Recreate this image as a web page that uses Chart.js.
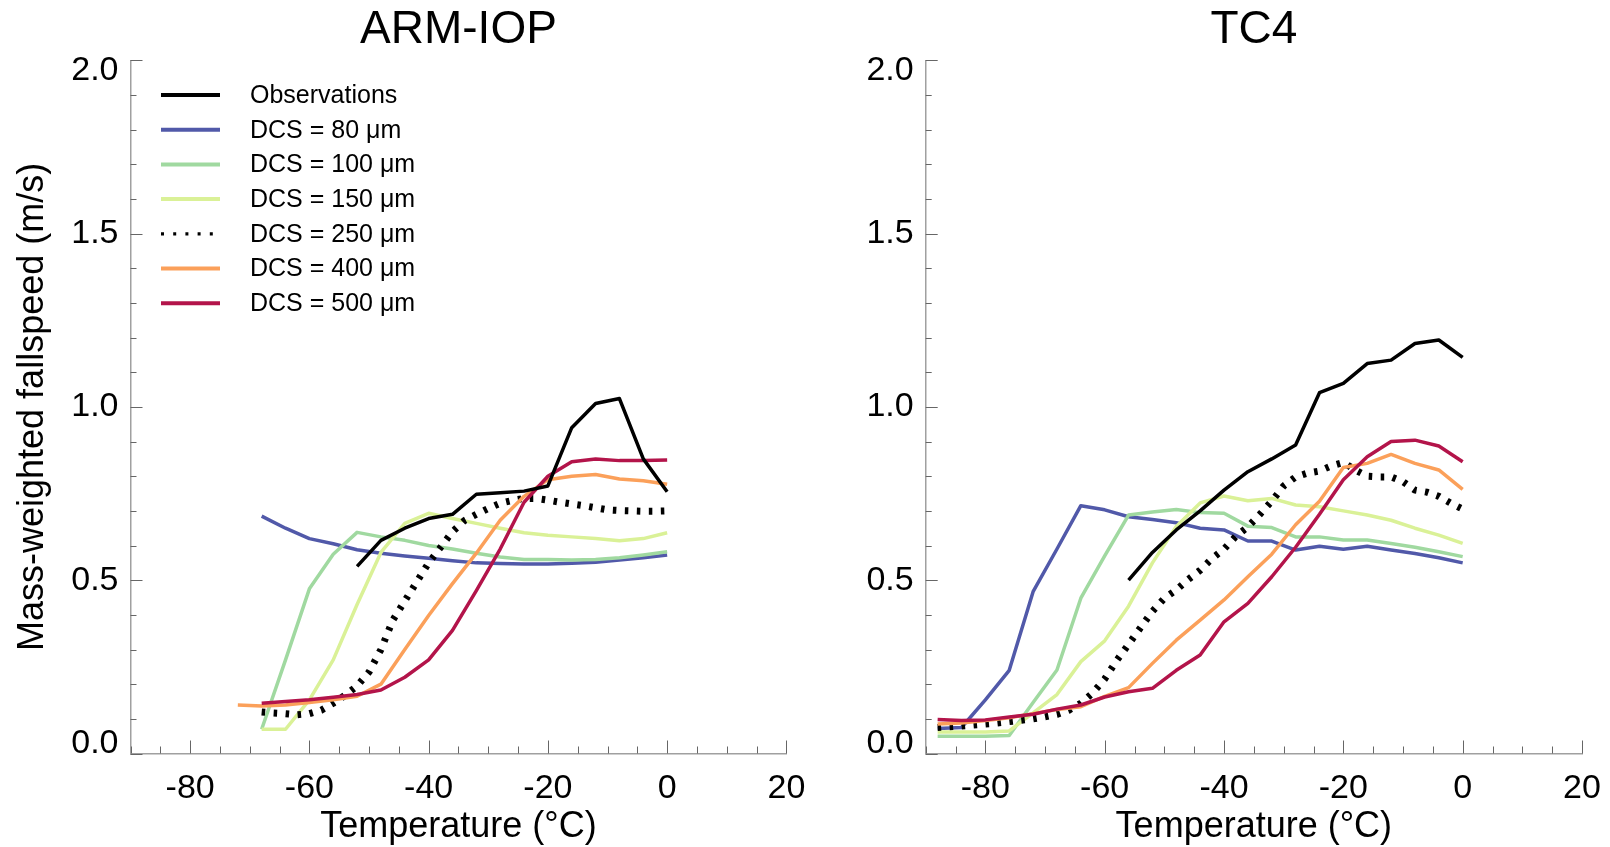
<!DOCTYPE html>
<html>
<head>
<meta charset="utf-8">
<script src="https://cdn.jsdelivr.net/npm/chart.js"></script>
<style>
html, body { margin: 0; padding: 0; background: #ffffff; }
#wrap { position: relative; width: 1610px; height: 847px; overflow: hidden; }
.panel { position: absolute; top: 0; width: 805px; height: 847px; }
#p1 { left: 0; }
#p2 { left: 805px; }
</style>
</head>
<body>
<div id="wrap">
  <div class="panel" id="p1"><canvas id="c1"></canvas></div>
  <div class="panel" id="p2"><canvas id="c2"></canvas></div>
</div>
<script>
// ---------------- DATA ----------------
const panelTitles = ['ARM-IOP', 'TC4'];
const seriesLabels = ['Observations', 'DCS = 80 \u03BCm', 'DCS = 100 \u03BCm', 'DCS = 150 \u03BCm',
                      'DCS = 250 \u03BCm', 'DCS = 400 \u03BCm', 'DCS = 500 \u03BCm'];

const xTickValues = [-90, -85, -80, -75, -70, -65, -60, -55, -50, -45, -40, -35, -30, -25, -20, -15, -10, -5, 0, 5, 10, 15, 20];
const xTickLabels = ['-80', '-60', '-40', '-20', '0', '20'];
const yTickValues = [0.0, 0.1, 0.2, 0.3, 0.4, 0.5, 0.6, 0.7, 0.8, 0.9, 1.0, 1.1, 1.2, 1.3, 1.4, 1.5, 1.6, 1.7, 1.8, 1.9, 2.0];
const yTickLabels = ['0.0', '0.5', '1.0', '1.5', '2.0'];

// ARM-IOP (temperatures in deg C)
const tArm = [-72, -68, -64, -60, -56, -52, -48, -44, -40, -36, -32, -28, -24, -20, -16, -12, -8, -4, 0];
const tArm2 = [-68, -66, -64, -62, -60, -58, -56, -54, -52, -50, -48, -46, -44, -42, -40, -38, -36, -34,
               -32, -30, -28, -26, -24, -22, -20, -18, -16, -14, -12, -10, -8, -6, -4, -2, 0];
const armObs  = [null, null, null, null, null, 0.54, 0.615, 0.65, 0.678, 0.69, 0.748, 0.752, 0.757, 0.772, 0.94, 1.01, 1.024, 0.85, 0.755];
const armD80  = [null, 0.685, 0.65, 0.62, 0.605, 0.588, 0.578, 0.57, 0.563, 0.556, 0.55, 0.548, 0.547, 0.547, 0.549, 0.552, 0.558, 0.565, 0.573];
const armD100 = [null, 0.07, 0.27, 0.475, 0.575, 0.638, 0.625, 0.615, 0.60, 0.59, 0.578, 0.567, 0.56, 0.56, 0.558, 0.56, 0.565, 0.573, 0.582];
const armD150 = [null, 0.07, 0.07, 0.155, 0.27, 0.43, 0.58, 0.664, 0.693, 0.678, 0.664, 0.65, 0.637, 0.63, 0.625, 0.62, 0.614, 0.62, 0.637];
const armD250 = [0.12, 0.117, 0.115, 0.112, 0.115, 0.125, 0.145, 0.168, 0.195, 0.235, 0.30, 0.385, 0.44, 0.495, 0.55,
                 0.595, 0.64, 0.672, 0.69, 0.707, 0.722, 0.73, 0.736, 0.736, 0.731, 0.725, 0.72, 0.715, 0.709, 0.703,
                 0.701, 0.70, 0.699, 0.699, 0.70];
const armD400 = [0.14, 0.137, 0.14, 0.147, 0.155, 0.165, 0.2, 0.3, 0.398, 0.49, 0.578, 0.673, 0.742, 0.79, 0.80, 0.805, 0.792, 0.787, 0.777];
const armD500 = [null, 0.145, 0.15, 0.155, 0.162, 0.17, 0.183, 0.22, 0.27, 0.355, 0.47, 0.59, 0.725, 0.80, 0.842, 0.85, 0.845, 0.845, 0.847];

// TC4
const tTc = [-88, -84, -80, -76, -72, -68, -64, -60, -56, -52, -48, -44, -40, -36, -32, -28, -24, -20, -16, -12, -8, -4, 0];
const tTc2 = [-88, -86, -84, -82, -80, -78, -76, -74, -72, -70, -68, -66, -64, -62, -60, -58, -56, -54, -52, -50,
              -48, -46, -44, -42, -40, -38, -36, -34, -32, -30, -28, -26, -24, -22, -20, -18, -16, -14, -12, -10,
              -8, -6, -4, -2, 0];
const tcObs  = [null, null, null, null, null, null, null, null, 0.50, 0.58, 0.645, 0.70, 0.76, 0.813, 0.85, 0.89, 1.041, 1.068, 1.125, 1.135, 1.183, 1.193, 1.143];
const tcD80  = [0.072, 0.075, 0.155, 0.24, 0.467, 0.59, 0.715, 0.703, 0.683, 0.675, 0.666, 0.65, 0.645, 0.613, 0.613, 0.587, 0.598, 0.589, 0.598, 0.587, 0.577, 0.565, 0.55];
const tcD100 = [0.05, 0.05, 0.05, 0.052, 0.147, 0.241, 0.448, 0.57, 0.688, 0.697, 0.704, 0.695, 0.693, 0.656, 0.652, 0.625, 0.625, 0.616, 0.616, 0.606, 0.595, 0.582, 0.568];
const tcD150 = [0.062, 0.062, 0.062, 0.065, 0.117, 0.17, 0.265, 0.325, 0.425, 0.55, 0.655, 0.723, 0.743, 0.729, 0.736, 0.717, 0.712, 0.70, 0.688, 0.673, 0.65, 0.63, 0.606];
const tcD250 = [0.075, 0.077, 0.079, 0.082, 0.085, 0.088, 0.092, 0.096, 0.10, 0.106, 0.113, 0.125, 0.145, 0.175, 0.215,
                0.268, 0.315, 0.363, 0.41, 0.448, 0.472, 0.502, 0.529, 0.563, 0.59, 0.627, 0.654, 0.69, 0.728, 0.772,
                0.798, 0.809, 0.815, 0.83, 0.84, 0.818, 0.80, 0.798, 0.798, 0.784, 0.76, 0.754, 0.742, 0.722, 0.705];
const tcD400 = [0.085, 0.088, 0.095, 0.103, 0.115, 0.127, 0.135, 0.165, 0.19, 0.26, 0.327, 0.385, 0.443, 0.51, 0.575, 0.66, 0.728, 0.825, 0.837, 0.863, 0.837, 0.818, 0.762];
const tcD500 = [0.098, 0.095, 0.097, 0.105, 0.113, 0.128, 0.14, 0.163, 0.178, 0.188, 0.24, 0.284, 0.38, 0.433, 0.51, 0.595, 0.69, 0.79, 0.856, 0.90, 0.904, 0.887, 0.842];

// ---------------- STYLE ----------------
const FONT = "'Liberation Sans', Arial, Helvetica, sans-serif";
const seriesColors = ['#000000', '#5159a9', '#a0d9a0', '#daf197', '#000000', '#fba05a', '#b3144a'];
const drawOrder = [0, 6, 5, 4, 3, 2, 1];
const dottedIndex = 4;

function pts(ts, vs) {
  const out = [];
  ts.forEach((t, i) => { if (vs[i] !== null && vs[i] !== undefined) out.push({ x: t, y: vs[i] }); });
  return out;
}

function makeDatasets(series) {
  return series.map((s, i) => ({
    label: seriesLabels[i],
    data: pts(s[0], s[1]),
    borderColor: seriesColors[i],
    backgroundColor: seriesColors[i],
    borderWidth: i === dottedIndex ? 7 : 3.5,
    borderDash: i === dottedIndex ? [3.5, 8.5] : [],
    borderCapStyle: 'butt',
    borderJoinStyle: 'round',
    pointRadius: 0,
    pointHoverRadius: 0,
    fill: false,
    tension: 0,
    order: drawOrder[i]
  }));
}

const tickMarks = {
  id: 'tickMarks',
  afterDatasetsDraw(chart) {
    const ctx = chart.ctx;
    const xs = chart.scales.x, ys = chart.scales.y;
    const area = chart.chartArea;
    ctx.save();
    ctx.strokeStyle = '#666666';
    ctx.lineWidth = 1;
    ctx.setLineDash([]);
    xs.ticks.forEach(t => {
      const px = Math.round(xs.getPixelForValue(t.value)) + 0.5;
      const major = xTickLabels.includes(String(Math.round(t.value)));
      const len = major ? 13 : 7;
      ctx.beginPath(); ctx.moveTo(px, area.bottom); ctx.lineTo(px, area.bottom - len); ctx.stroke();
    });
    ys.ticks.forEach(t => {
      const py = Math.round(ys.getPixelForValue(t.value)) + 0.5;
      const major = yTickLabels.includes(t.value.toFixed(1));
      const len = major ? 12 : 6;
      ctx.beginPath(); ctx.moveTo(area.left, py); ctx.lineTo(area.left + len, py); ctx.stroke();
    });
    ctx.restore();
  }
};

const insideLegend = {
  id: 'insideLegend',
  afterDatasetsDraw(chart, args, opts) {
    if (!opts || !opts.enabled) return;
    const ctx = chart.ctx;
    const x0 = 161, x1 = 220, textX = 250, top = 95, step = 34.7;
    ctx.save();
    chart.data.datasets.forEach((ds, i) => {
      const y = top + i * step;
      const dotted = ds.borderDash && ds.borderDash.length > 0;
      ctx.beginPath();
      ctx.strokeStyle = ds.borderColor;
      ctx.lineWidth = dotted ? 3.2 : 4;
      ctx.lineCap = 'butt';
      ctx.setLineDash(dotted ? [3, 9.2] : []);
      ctx.moveTo(x0, y); ctx.lineTo(x1, y); ctx.stroke();
      ctx.setLineDash([]);
      ctx.fillStyle = '#000000';
      ctx.font = '25px ' + FONT;
      ctx.textBaseline = 'middle';
      ctx.textAlign = 'left';
      ctx.fillText(ds.label, textX, y + 1);
    });
    ctx.restore();
  }
};

function makeOptions(title, yWidth, padRight, withLegend, showYTitle) {
  return {
    responsive: true,
    maintainAspectRatio: false,
    animation: false,
    devicePixelRatio: 1,
    events: [],
    layout: { padding: { left: 0, right: padRight, top: 0, bottom: 0 } },
    plugins: {
      legend: { display: false },
      tooltip: { enabled: false },
      title: {
        display: true, text: title, fullSize: false, color: '#000000',
        font: { family: FONT, size: 46, weight: 'normal', lineHeight: 1.2 },
        padding: { top: 3, bottom: 2.1 }
      },
      insideLegend: { enabled: withLegend }
    },
    scales: {
      x: {
        type: 'linear', position: 'bottom', min: -90, max: 20,
        afterBuildTicks: s => { s.ticks = xTickValues.map(v => ({ value: v })); },
        ticks: {
          autoSkip: false, maxRotation: 0, minRotation: 0, padding: 15, color: '#000000',
          font: { family: FONT, size: 34, lineHeight: 1.2 },
          callback: v => { const s = String(Math.round(v)); return xTickLabels.includes(s) ? s : ''; }
        },
        grid: { display: false, drawTicks: false },
        border: { display: true, color: '#a0a0a0', width: 1.5 },
        title: {
          display: true, text: 'Temperature (\u00B0C)', color: '#000000',
          font: { family: FONT, size: 36, lineHeight: 1.2 },
          padding: { top: 0, bottom: -2 }
        },
        afterFit: s => { s.height = 93.5; s.paddingLeft = 0; s.paddingRight = 0; }
      },
      y: {
        type: 'linear', position: 'left', min: 0, max: 2,
        afterBuildTicks: s => { s.ticks = yTickValues.map(v => ({ value: v })); },
        ticks: {
          autoSkip: false, padding: 12, color: '#000000',
          font: { family: FONT, size: 34, lineHeight: '20px' },
          callback: v => {
            const s = Number(v).toFixed(1);
            if (!yTickLabels.includes(s)) return '';
            if (s === yTickLabels[yTickLabels.length - 1]) return ['', s];
            if (s === yTickLabels[0]) return [s, ''];
            return s;
          }
        },
        grid: { display: false, drawTicks: false },
        border: { display: true, color: '#a0a0a0', width: 1.5 },
        title: {
          display: showYTitle, text: 'Mass-weighted fallspeed (m/s)', color: '#000000',
          font: { family: FONT, size: 36, lineHeight: 1.2 },
          padding: { top: 11, bottom: 0 }
        },
        afterFit: s => { s.width = yWidth; s.paddingTop = 0; s.paddingBottom = 0; }
      }
    }
  };
}

new Chart(document.getElementById('c1'), {
  type: 'line',
  data: { datasets: makeDatasets([[tArm, armObs], [tArm, armD80], [tArm, armD100], [tArm, armD150],
                                  [tArm2, armD250], [tArm, armD400], [tArm, armD500]]) },
  options: makeOptions(panelTitles[0], 130.5, 18.6, true, true),
  plugins: [tickMarks, insideLegend]
});

new Chart(document.getElementById('c2'), {
  type: 'line',
  data: { datasets: makeDatasets([[tTc, tcObs], [tTc, tcD80], [tTc, tcD100], [tTc, tcD150],
                                  [tTc2, tcD250], [tTc, tcD400], [tTc, tcD500]]) },
  options: makeOptions(panelTitles[1], 120.7, 28, false, false),
  plugins: [tickMarks, insideLegend]
});
</script>
</body>
</html>
